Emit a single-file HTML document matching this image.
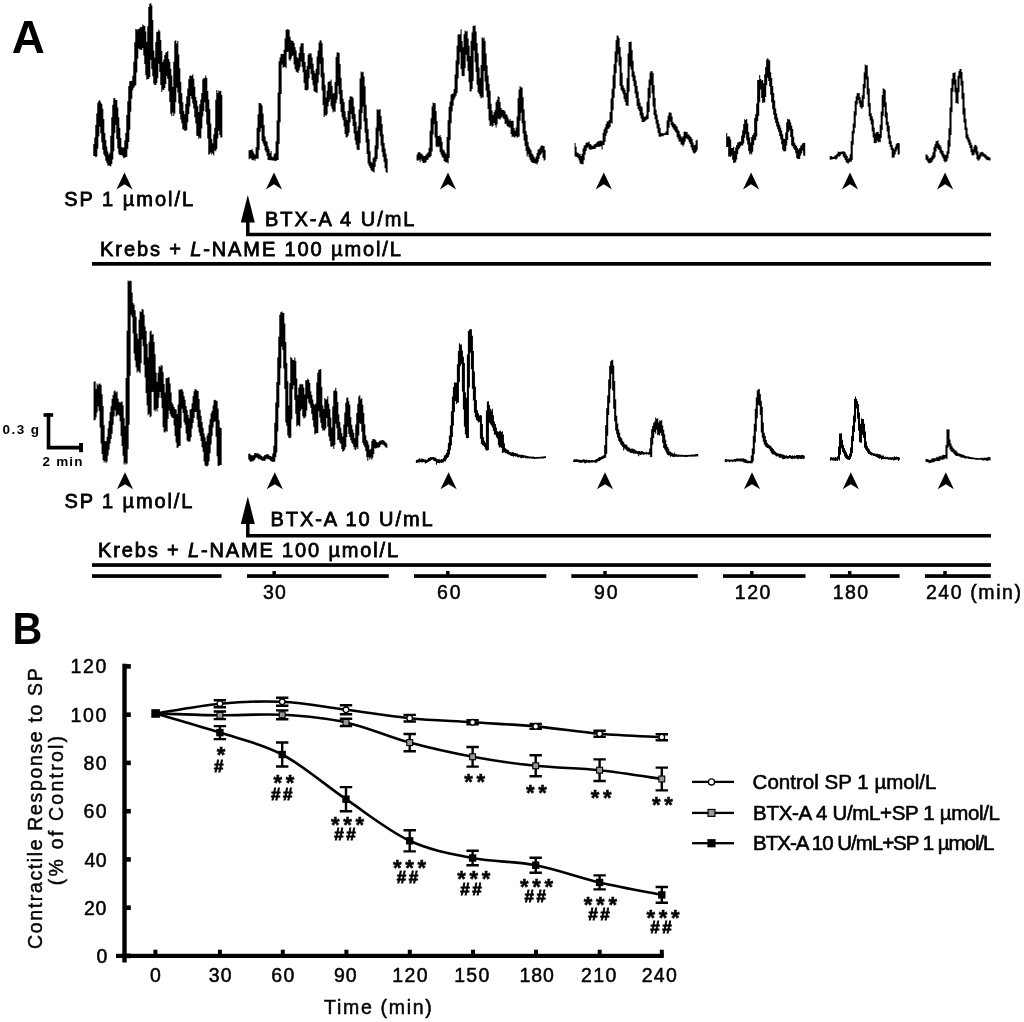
<!DOCTYPE html>
<html><head><meta charset="utf-8"><style>
html,body{margin:0;padding:0;background:#fff;width:1024px;height:1022px;overflow:hidden;}
svg{display:block;will-change:transform;}
</style></head><body>
<svg width="1024" height="1022" viewBox="0 0 1024 1022">
<path d="M93.8,144.0V156.1M94.8,137.4V156.1M95.8,125.1V157.2M96.8,113.6V156.6M97.8,102.8V148.8M98.8,101.1V136.6M99.8,100.0V126.8M100.8,102.3V133.4M101.8,104.0V142.3M102.8,108.7V149.8M103.8,118.9V154.5M104.8,133.0V156.3M105.8,139.9V160.7M106.8,146.5V162.7M107.8,151.5V165.6M108.8,154.5V165.5M109.8,152.7V166.1M110.8,135.8V166.5M111.8,117.3V163.9M112.8,104.8V159.6M113.8,98.2V151.2M114.8,97.9V132.9M115.8,100.1V125.0M116.8,99.9V138.9M117.8,107.4V148.4M118.8,117.2V153.8M119.8,127.8V155.3M120.8,138.0V155.3M121.8,146.9V155.0M122.8,147.8V156.6M123.8,147.2V158.3M124.8,140.5V157.8M125.8,133.0V157.1M126.8,114.9V156.8M127.8,101.3V148.9M128.8,85.9V141.9M129.8,81.3V129.8M130.8,80.9V111.7M131.8,80.8V98.7M132.8,75.7V90.3M133.8,61.8V87.8M134.8,42.3V86.4M135.8,29.1V85.0M136.8,29.6V72.6M137.8,29.5V58.5M138.8,28.7V48.5M139.8,28.3V49.6M140.8,26.7V49.8M141.8,26.9V50.1M142.8,24.6V48.1M143.8,25.4V55.4M144.8,25.9V64.0M145.8,31.4V75.2M146.8,41.7V79.8M147.8,26.2V78.9M148.8,6.9V79.1M149.8,4.0V77.1M150.8,3.0V60.0M151.8,5.6V68.9M152.8,20.1V76.3M153.8,50.5V83.7M154.8,57.4V85.0M155.8,42.1V84.9M156.8,31.8V83.1M157.8,31.7V78.3M158.8,29.4V63.8M159.8,31.3V72.0M160.8,40.1V85.1M161.8,50.9V91.9M162.8,61.9V89.5M163.8,59.6V90.1M164.8,55.1V88.0M165.8,52.7V83.9M166.8,52.1V76.3M167.8,50.9V78.9M168.8,59.0V91.2M169.8,61.7V102.0M170.8,68.7V113.7M171.8,75.5V116.3M172.8,87.1V112.5M173.8,61.8V116.0M174.8,40.9V113.4M175.8,40.3V102.3M176.8,43.4V87.7M177.8,41.0V92.6M178.8,54.4V103.5M179.8,68.2V114.0M180.8,82.0V119.6M181.8,93.2V123.3M182.8,102.2V129.3M183.8,110.9V129.7M184.8,114.2V130.7M185.8,103.8V131.1M186.8,96.3V130.0M187.8,88.5V122.3M188.8,79.3V114.1M189.8,75.8V106.5M190.8,75.4V96.0M191.8,76.0V99.0M192.8,74.2V103.5M193.8,78.7V108.4M194.8,86.8V117.2M195.8,97.1V123.5M196.8,100.5V135.7M197.8,106.0V136.0M198.8,111.9V138.7M199.8,104.2V137.6M200.8,99.4V138.5M201.8,92.9V128.5M202.8,79.2V116.5M203.8,78.3V111.1M204.8,77.7V102.2M205.8,75.5V112.1M206.8,78.1V124.5M207.8,91.1V138.5M208.8,99.4V154.7M209.8,109.0V154.1M210.8,123.4V152.5M211.8,139.1V154.5M212.8,143.3V153.3M213.8,134.3V155.5M214.8,127.7V150.5M215.8,99.7V151.3M216.8,89.9V149.1M217.8,93.0V138.6M218.8,90.5V130.7M219.8,91.2V134.9M220.8,90.8V137.5M221.8,95.0V137.5" fill="none" stroke="#000" stroke-width="1.05"/>
<path d="M249.1,150.2V159.2M250.1,149.9V158.2M251.1,150.0V158.6M252.1,148.9V160.1M253.1,151.3V160.5M254.1,153.3V159.4M255.1,154.7V160.7M256.1,147.2V158.5M257.1,127.8V158.8M258.1,114.3V158.8M259.1,102.9V150.1M260.1,103.1V132.0M261.1,103.7V128.2M262.1,105.5V141.0M263.1,113.5V143.5M264.1,125.1V145.9M265.1,136.6V150.4M266.1,140.7V152.3M267.1,141.8V155.9M268.1,146.3V160.0M269.1,148.9V160.3M270.1,153.1V159.9M271.1,151.1V160.2M272.1,156.4V160.5M273.1,157.2V160.6M274.1,154.6V160.6M275.1,153.1V160.9M276.1,141.3V160.9M277.1,120.6V159.9M278.1,92.6V160.0M279.1,61.2V144.0M280.1,57.5V122.3M281.1,54.1V94.0M282.1,53.9V64.5M283.1,54.0V67.8M284.1,49.8V66.9M285.1,38.5V66.7M286.1,29.9V68.2M287.1,29.3V52.0M288.1,29.2V51.8M289.1,29.9V59.6M290.1,36.8V60.9M291.1,40.3V58.7M292.1,40.7V56.3M293.1,41.1V55.6M294.1,42.9V64.4M295.1,47.2V69.1M296.1,50.5V71.5M297.1,56.9V72.3M298.1,58.2V73.1M299.1,52.9V70.6M300.1,46.8V67.3M301.1,43.6V61.5M302.1,43.2V66.7M303.1,43.2V72.3M304.1,53.0V83.1M305.1,62.0V90.1M306.1,69.7V90.1M307.1,65.9V90.8M308.1,55.1V89.2M309.1,53.2V78.4M310.1,53.4V68.9M311.1,53.4V73.9M312.1,57.5V80.0M313.1,63.7V85.2M314.1,70.7V91.0M315.1,73.3V91.9M316.1,69.0V92.6M317.1,56.4V93.1M318.1,50.6V82.7M319.1,42.5V74.8M320.1,40.2V63.8M321.1,40.5V77.2M322.1,43.2V90.4M323.1,57.4V105.1M324.1,72.8V117.1M325.1,84.7V115.1M326.1,97.6V116.0M327.1,90.8V114.3M328.1,82.0V106.6M329.1,81.3V102.1M330.1,81.4V99.5M331.1,79.4V106.2M332.1,86.1V109.0M333.1,93.5V112.4M334.1,92.9V111.3M335.1,81.9V111.8M336.1,56.9V103.2M337.1,52.6V99.6M338.1,52.2V86.1M339.1,52.9V94.3M340.1,64.0V104.1M341.1,77.8V112.0M342.1,90.1V117.2M343.1,98.8V120.2M344.1,102.1V126.5M345.1,111.2V134.1M346.1,117.2V137.3M347.1,120.1V137.5M348.1,111.0V135.7M349.1,100.0V132.7M350.1,96.2V122.4M351.1,96.4V114.1M352.1,96.4V118.9M353.1,98.0V125.9M354.1,106.6V133.4M355.1,114.0V140.6M356.1,121.8V144.8M357.1,131.1V149.5M358.1,126.3V149.9M359.1,109.5V149.9M360.1,78.5V143.2M361.1,71.6V129.2M362.1,72.6V113.1M363.1,71.8V106.7M364.1,76.6V121.4M365.1,86.3V132.7M366.1,104.7V142.4M367.1,118.2V153.9M368.1,128.9V163.4M369.1,139.1V165.9M370.1,151.2V168.0M371.1,161.7V170.2M372.1,162.7V171.2M373.1,158.3V171.7M374.1,156.7V172.4M375.1,145.4V167.0M376.1,127.4V161.5M377.1,109.3V158.9M378.1,110.1V149.2M379.1,109.5V131.3M380.1,109.3V136.5M381.1,115.9V145.6M382.1,124.0V152.2M383.1,134.2V157.1M384.1,143.1V161.9M385.1,148.4V168.2M386.1,153.7V172.1M387.1,158.8V173.1" fill="none" stroke="#000" stroke-width="1.05"/>
<path d="M417.1,154.5V160.4M418.1,152.6V160.8M419.1,152.1V159.8M420.1,152.6V162.2M421.1,153.7V159.6M422.1,153.7V161.2M423.1,155.5V163.1M424.1,156.0V163.1M425.1,156.0V162.7M426.1,154.5V162.3M427.1,153.5V159.9M428.1,152.2V159.5M429.1,147.7V157.6M430.1,130.7V157.2M431.1,118.2V156.1M432.1,106.4V151.4M433.1,102.4V134.4M434.1,103.2V124.3M435.1,103.0V137.6M436.1,111.1V146.7M437.1,120.9V146.6M438.1,135.9V147.2M439.1,135.9V146.5M440.1,135.0V152.2M441.1,137.2V154.6M442.1,141.8V156.7M443.1,149.5V158.0M444.1,150.2V160.9M445.1,152.3V162.1M446.1,154.0V162.5M447.1,136.9V162.3M448.1,120.2V163.6M449.1,106.8V158.1M450.1,101.6V140.0M451.1,94.4V123.3M452.1,93.7V111.4M453.1,93.6V105.8M454.1,88.9V99.8M455.1,74.6V97.6M456.1,60.6V95.8M457.1,45.7V93.1M458.1,34.5V78.5M459.1,34.3V64.6M460.1,34.3V52.3M461.1,29.3V69.0M462.1,40.9V75.7M463.1,47.3V76.2M464.1,34.3V76.1M465.1,30.6V68.3M466.1,31.7V54.8M467.1,30.7V61.3M468.1,38.5V71.1M469.1,45.8V82.2M470.1,56.0V91.2M471.1,40.8V91.4M472.1,32.4V89.0M473.1,25.9V81.0M474.1,25.8V50.6M475.1,25.6V62.2M476.1,31.5V72.1M477.1,43.1V84.8M478.1,53.3V92.2M479.1,67.5V94.1M480.1,78.1V96.6M481.1,64.9V98.5M482.1,37.3V97.2M483.1,38.5V97.7M484.1,37.6V70.9M485.1,41.1V81.4M486.1,53.5V90.4M487.1,65.4V97.2M488.1,75.6V109.1M489.1,83.7V120.4M490.1,90.8V125.9M491.1,103.8V125.2M492.1,110.5V126.8M493.1,115.0V126.0M494.1,112.3V123.1M495.1,110.0V124.9M496.1,102.0V127.6M497.1,100.1V124.4M498.1,96.3V118.6M499.1,97.1V119.2M500.1,101.9V119.4M501.1,108.0V118.1M502.1,109.8V116.5M503.1,110.0V118.2M504.1,110.3V119.2M505.1,111.4V123.9M506.1,114.2V123.7M507.1,114.7V126.1M508.1,117.5V126.8M509.1,120.6V127.4M510.1,119.0V127.5M511.1,121.0V134.0M512.1,120.5V137.1M513.1,120.9V136.2M514.1,128.1V137.6M515.1,130.8V137.2M516.1,127.5V136.0M517.1,116.6V137.7M518.1,98.3V137.1M519.1,89.4V136.4M520.1,86.1V120.7M521.1,87.6V112.9M522.1,87.5V123.3M523.1,97.2V133.4M524.1,109.6V140.4M525.1,120.7V146.0M526.1,130.9V151.0M527.1,134.8V156.4M528.1,141.9V154.3M529.1,146.6V157.2M530.1,148.5V159.8M531.1,150.2V161.7M532.1,153.5V162.4M533.1,154.8V162.9M534.1,156.7V162.9M535.1,158.4V163.7M536.1,156.5V163.6M537.1,153.1V164.6M538.1,149.4V162.3M539.1,149.3V158.9M540.1,147.6V155.4M541.1,145.8V154.2M542.1,145.3V152.8M543.1,145.9V158.0M544.1,145.9V160.8M545.1,149.9V159.7" fill="none" stroke="#000" stroke-width="1.05"/>
<path d="M575.1,142.9V156.6M576.1,146.8V156.7M577.1,152.4V157.3M578.1,152.8V158.3M579.1,154.3V160.5M580.1,153.7V163.4M581.1,155.9V163.9M582.1,153.8V164.3M583.1,148.4V164.2M584.1,145.7V160.2M585.1,145.1V154.8M586.1,142.8V151.0M587.1,142.6V148.3M588.1,142.3V147.1M589.1,141.6V149.0M590.1,143.9V149.9M591.1,144.5V149.5M592.1,145.7V149.6M593.1,145.7V149.0M594.1,144.4V148.9M595.1,144.1V149.0M596.1,143.2V147.6M597.1,141.9V147.1M598.1,141.2V146.6M599.1,140.9V146.9M600.1,140.8V146.6M601.1,140.6V146.2M602.1,141.0V149.5M603.1,132.8V145.1M604.1,129.3V144.9M605.1,127.2V141.8M606.1,123.9V135.7M607.1,121.6V132.9M608.1,121.2V129.1M609.1,120.0V128.5M610.1,112.0V126.9M611.1,98.5V123.1M612.1,88.8V123.5M613.1,75.3V110.3M614.1,64.3V98.1M615.1,51.5V88.5M616.1,40.3V73.2M617.1,35.6V62.2M618.1,35.7V54.3M619.1,38.0V65.8M620.1,47.0V86.1M621.1,56.7V89.9M622.1,72.8V91.5M623.1,85.3V94.2M624.1,87.7V99.0M625.1,89.8V101.8M626.1,93.1V105.5M627.1,78.0V105.5M628.1,53.6V106.0M629.1,42.1V91.8M630.1,42.1V66.6M631.1,41.5V69.5M632.1,50.1V77.1M633.1,60.7V80.9M634.1,71.4V86.3M635.1,75.5V93.6M636.1,80.6V98.1M637.1,86.0V105.8M638.1,91.6V109.0M639.1,98.5V110.9M640.1,102.7V115.6M641.1,105.9V118.6M642.1,107.3V122.1M643.1,112.7V122.3M644.1,116.5V122.0M645.1,117.0V121.2M646.1,115.2V120.3M647.1,101.8V119.6M648.1,87.7V118.9M649.1,79.5V111.9M650.1,72.5V98.0M651.1,71.0V85.2M652.1,71.3V93.6M653.1,73.1V106.5M654.1,85.1V115.1M655.1,97.7V119.2M656.1,109.7V123.8M657.1,114.6V128.4M658.1,119.7V132.9M659.1,123.7V136.5M660.1,127.7V137.0M661.1,132.7V136.2M662.1,133.2V136.3M663.1,133.2V136.3M664.1,133.2V135.2M665.1,132.8V134.8M666.1,131.2V135.1M667.1,120.5V135.0M668.1,115.8V135.1M669.1,112.5V127.7M670.1,112.5V121.4M671.1,112.8V125.0M672.1,116.4V127.0M673.1,122.0V128.4M674.1,123.6V130.1M675.1,123.9V131.4M676.1,125.5V132.8M677.1,126.6V136.9M678.1,129.6V139.0M679.1,131.1V141.4M680.1,134.1V141.8M681.1,136.3V144.4M682.1,137.5V145.1M683.1,136.2V146.4M684.1,131.8V144.6M685.1,131.6V141.8M686.1,131.9V138.4M687.1,132.0V138.7M688.1,134.4V139.8M689.1,134.6V142.0M690.1,136.2V143.9M691.1,137.1V147.3M692.1,138.9V149.9M693.1,142.6V152.5M694.1,145.2V153.6M695.1,144.7V153.2M696.1,140.5V152.1M697.1,139.8V150.2" fill="none" stroke="#000" stroke-width="1.05"/>
<path d="M726.7,132.9V147.0M727.7,136.6V146.9M728.7,136.2V156.4M729.7,136.7V156.4M730.7,139.6V157.1M731.7,148.0V155.4M732.7,148.1V159.7M733.7,146.8V163.1M734.7,151.0V162.7M735.7,147.4V162.2M736.7,145.0V159.5M737.7,142.6V153.9M738.7,142.3V149.5M739.7,141.6V148.2M740.7,141.5V146.2M741.7,135.5V145.3M742.7,130.3V145.6M743.7,124.1V143.5M744.7,119.3V137.8M745.7,120.1V134.2M746.7,118.9V140.2M747.7,123.5V144.5M748.7,132.0V151.1M749.7,137.5V154.6M750.7,142.4V153.2M751.7,137.0V154.5M752.7,134.9V151.7M753.7,133.3V144.9M754.7,117.9V140.2M755.7,114.3V139.9M756.7,103.4V136.6M757.7,80.0V121.1M758.7,80.1V116.1M759.7,75.0V102.2M760.7,79.0V89.6M761.7,80.4V98.0M762.7,80.0V103.0M763.7,83.3V102.6M764.7,74.3V102.3M765.7,67.1V96.9M766.7,59.5V85.3M767.7,58.2V77.7M768.7,59.5V80.9M769.7,60.6V86.5M770.7,72.3V94.8M771.7,77.9V102.5M772.7,85.9V109.2M773.7,92.9V114.7M774.7,100.6V119.6M775.7,108.5V123.1M776.7,113.4V126.5M777.7,117.7V129.2M778.7,121.8V131.9M779.7,124.8V135.9M780.7,127.5V139.4M781.7,130.6V144.3M782.7,134.2V149.7M783.7,138.5V151.3M784.7,139.0V151.5M785.7,132.4V151.0M786.7,122.3V145.5M787.7,118.8V140.1M788.7,119.4V132.1M789.7,119.4V130.2M790.7,122.6V137.0M791.7,125.8V145.4M792.7,128.9V146.4M793.7,136.8V148.6M794.7,142.8V149.9M795.7,144.7V153.3M796.7,146.1V158.1M797.7,147.9V158.9M798.7,149.6V159.0M799.7,147.9V159.1M800.7,145.8V155.6M801.7,144.8V153.2M802.7,143.3V150.6M803.7,142.9V155.6M804.7,142.8V156.0" fill="none" stroke="#000" stroke-width="1.05"/>
<path d="M830.2,156.2V159.7M831.2,156.1V159.4M832.2,156.7V159.4M833.2,157.0V159.0M834.2,156.2V158.9M835.2,155.5V159.3M836.2,154.7V159.5M837.2,153.5V158.5M838.2,151.6V156.6M839.2,152.0V156.7M840.2,151.7V155.7M841.2,151.7V154.5M842.2,151.4V154.1M843.2,151.3V156.5M844.2,151.5V157.9M845.2,152.3V159.9M846.2,154.4V162.3M847.2,156.1V163.1M848.2,158.8V163.7M849.2,157.7V162.5M850.2,154.2V161.5M851.2,141.0V161.9M852.2,131.1V160.0M853.2,123.4V144.7M854.2,111.3V133.6M855.2,101.0V127.8M856.2,96.3V115.5M857.2,92.9V104.5M858.2,93.3V100.1M859.2,93.0V103.6M860.2,97.3V107.0M861.2,100.6V108.8M862.2,95.2V108.2M863.2,84.1V106.9M864.2,72.5V99.0M865.2,64.5V88.3M866.2,65.3V79.6M867.2,65.2V94.5M868.2,76.4V106.7M869.2,88.6V116.2M870.2,103.0V120.4M871.2,113.3V124.6M872.2,116.2V131.5M873.2,119.2V137.4M874.2,127.6V143.0M875.2,133.5V143.2M876.2,132.2V143.1M877.2,132.1V140.7M878.2,131.7V142.6M879.2,133.9V141.7M880.2,124.7V142.3M881.2,111.6V138.1M882.2,94.9V129.9M883.2,88.2V116.0M884.2,89.1V106.9M885.2,90.1V117.5M886.2,102.2V125.0M887.2,112.6V131.5M888.2,121.8V138.6M889.2,125.7V144.1M890.2,135.3V147.2M891.2,141.1V150.1M892.2,144.9V157.7M893.2,147.9V157.4M894.2,149.3V157.6M895.2,146.8V154.6M896.2,144.3V151.4M897.2,143.1V149.5M898.2,142.9V154.8M899.2,143.3V154.3" fill="none" stroke="#000" stroke-width="1.05"/>
<path d="M926.0,154.5V159.8M927.0,154.5V160.7M928.0,156.0V162.5M929.0,158.5V163.6M930.0,158.1V162.9M931.0,157.2V162.9M932.0,155.5V162.0M933.0,152.3V160.3M934.0,147.0V158.8M935.0,144.3V157.6M936.0,141.3V151.4M937.0,140.9V147.9M938.0,140.3V149.2M939.0,143.4V149.9M940.0,145.0V152.7M941.0,146.4V154.2M942.0,149.7V156.5M943.0,150.9V158.4M944.0,153.4V161.0M945.0,155.1V162.6M946.0,154.7V161.8M947.0,151.2V161.3M948.0,140.2V158.2M949.0,128.3V153.8M950.0,107.4V146.8M951.0,88.1V134.9M952.0,78.8V112.2M953.0,73.0V91.7M954.0,72.7V84.7M955.0,72.3V92.5M956.0,79.6V103.3M957.0,87.7V103.1M958.0,75.7V104.0M959.0,71.1V92.2M960.0,69.1V78.6M961.0,68.9V85.5M962.0,71.9V98.9M963.0,80.7V114.4M964.0,93.1V122.5M965.0,107.9V130.1M966.0,118.8V137.9M967.0,127.5V139.7M968.0,134.5V142.3M969.0,137.6V145.0M970.0,139.8V148.0M971.0,142.6V152.3M972.0,145.1V154.9M973.0,149.2V155.8M974.0,146.6V154.8M975.0,144.7V152.5M976.0,145.1V154.7M977.0,146.5V159.2M978.0,151.2V160.4M979.0,154.8V160.5M980.0,152.5V159.1M981.0,152.2V157.0M982.0,151.7V155.6M983.0,152.3V156.6M984.0,153.4V157.0M985.0,154.2V158.3M986.0,154.6V159.3M987.0,155.9V160.2M988.0,156.4V160.0M989.0,157.1V160.5M990.0,157.8V160.5" fill="none" stroke="#000" stroke-width="1.05"/>
<path d="M94.1,381.7V420.6M95.1,381.2V420.0M96.1,389.1V417.5M97.1,383.6V412.6M98.1,385.3V406.4M99.1,383.7V411.1M100.1,383.4V427.5M101.1,385.1V443.5M102.1,394.3V454.1M103.1,406.1V459.9M104.1,425.1V462.5M105.1,441.0V461.1M106.1,441.3V462.9M107.1,436.7V461.5M108.1,428.3V455.6M109.1,421.1V449.8M110.1,412.3V443.8M111.1,406.3V439.1M112.1,399.0V433.8M113.1,395.1V424.7M114.1,391.3V416.5M115.1,390.5V410.2M116.1,392.5V416.6M117.1,391.6V415.4M118.1,398.6V414.5M119.1,401.7V415.5M120.1,402.8V421.2M121.1,401.7V436.0M122.1,401.5V445.9M123.1,405.2V455.8M124.1,418.1V464.5M125.1,426.1V462.8M126.1,377.9V464.5M127.1,330.7V463.4M128.1,280.6V449.2M129.1,281.6V424.8M130.1,280.6V375.7M131.1,281.0V314.7M132.1,292.4V317.0M133.1,303.0V333.4M134.1,304.8V353.5M135.1,310.3V360.4M136.1,316.7V367.2M137.1,333.4V372.6M138.1,338.7V370.5M139.1,319.8V372.0M140.1,311.3V373.2M141.1,312.1V363.3M142.1,309.0V339.5M143.1,309.6V346.2M144.1,314.8V365.1M145.1,326.5V377.4M146.1,330.9V392.9M147.1,343.8V405.2M148.1,357.5V415.2M149.1,341.8V413.8M150.1,331.6V417.3M151.1,330.6V416.2M152.1,334.8V391.7M153.1,334.1V391.9M154.1,342.1V410.0M155.1,354.2V411.5M156.1,372.4V409.2M157.1,381.7V411.5M158.1,373.0V408.1M159.1,366.0V397.7M160.1,367.3V392.0M161.1,365.1V398.0M162.1,365.5V408.2M163.1,372.2V427.0M164.1,383.9V432.2M165.1,392.5V432.4M166.1,378.0V430.9M167.1,378.3V431.8M168.1,377.3V419.0M169.1,377.3V410.5M170.1,383.4V414.1M171.1,392.6V416.3M172.1,402.6V417.8M173.1,404.4V418.0M174.1,406.9V425.6M175.1,408.9V436.1M176.1,409.6V442.6M177.1,414.0V448.0M178.1,404.5V447.5M179.1,389.5V445.9M180.1,390.0V445.7M181.1,389.0V428.1M182.1,389.3V408.8M183.1,391.5V412.9M184.1,396.3V422.2M185.1,399.7V424.8M186.1,406.0V433.6M187.1,410.0V440.6M188.1,414.7V441.8M189.1,418.3V441.6M190.1,409.4V441.6M191.1,408.9V437.3M192.1,403.2V428.6M193.1,396.0V422.9M194.1,391.2V417.9M195.1,389.1V411.9M196.1,389.5V412.1M197.1,390.5V419.5M198.1,390.9V427.2M199.1,399.1V432.6M200.1,409.8V436.0M201.1,415.7V441.1M202.1,422.1V447.2M203.1,427.8V451.8M204.1,433.5V461.6M205.1,437.2V465.5M206.1,441.4V465.9M207.1,435.6V466.4M208.1,433.1V465.2M209.1,424.8V461.6M210.1,419.3V453.3M211.1,413.3V444.5M212.1,410.9V435.8M213.1,405.4V427.5M214.1,400.2V422.1M215.1,399.7V421.3M216.1,400.5V436.8M217.1,401.0V456.3M218.1,408.4V466.1M219.1,420.3V465.8M220.1,427.6V465.0M221.1,427.9V465.1" fill="none" stroke="#000" stroke-width="1.05"/>
<path d="M248.8,453.7V459.5M249.8,453.4V461.1M250.8,455.0V461.9M251.8,455.3V461.2M252.8,455.6V461.6M253.8,455.0V460.5M254.8,453.1V459.7M255.8,453.1V457.9M256.8,453.4V457.4M257.8,452.9V458.2M258.8,454.2V459.3M259.8,454.2V459.3M260.8,455.3V459.8M261.8,455.9V460.4M262.8,457.0V461.0M263.8,456.1V460.5M264.8,454.9V460.9M265.8,454.7V459.5M266.8,454.3V458.4M267.8,454.0V459.2M268.8,454.8V459.1M269.8,456.0V460.1M270.8,455.9V460.9M271.8,456.7V461.8M272.8,453.6V461.8M273.8,445.8V462.1M274.8,422.8V461.6M275.8,402.5V457.1M276.8,382.1V452.5M277.8,357.3V431.6M278.8,336.8V407.5M279.8,314.8V385.1M280.8,312.2V368.3M281.8,311.4V346.6M282.8,312.8V350.1M283.8,313.0V368.6M284.8,323.4V388.9M285.8,342.0V422.5M286.8,363.0V425.8M287.8,381.3V435.4M288.8,405.5V437.8M289.8,383.0V438.3M290.8,357.0V437.6M291.8,357.9V419.2M292.8,360.0V389.3M293.8,360.3V385.3M294.8,357.6V399.8M295.8,361.0V413.7M296.8,378.4V426.4M297.8,394.9V425.1M298.8,387.7V425.6M299.8,384.5V426.4M300.8,383.8V410.8M301.8,384.5V408.9M302.8,384.3V416.2M303.8,387.5V418.5M304.8,394.4V418.0M305.8,380.3V416.6M306.8,380.2V410.4M307.8,378.6V398.8M308.8,380.0V402.7M309.8,383.1V404.4M310.8,391.3V407.8M311.8,394.9V413.9M312.8,399.5V420.2M313.8,403.8V426.9M314.8,404.7V434.4M315.8,403.5V433.2M316.8,382.5V433.3M317.8,372.7V432.9M318.8,369.7V411.3M319.8,369.6V417.4M320.8,368.9V422.7M321.8,387.1V428.1M322.8,405.6V430.5M323.8,409.0V430.3M324.8,398.0V430.5M325.8,399.5V428.4M326.8,399.2V418.1M327.8,396.2V426.7M328.8,403.7V436.4M329.8,408.9V441.0M330.8,417.4V446.6M331.8,427.4V446.8M332.8,406.6V446.1M333.8,391.0V449.1M334.8,390.3V445.1M335.8,387.7V423.8M336.8,391.2V428.2M337.8,401.9V439.9M338.8,414.4V439.7M339.8,422.1V442.5M340.8,427.7V444.0M341.8,433.1V448.9M342.8,436.4V451.7M343.8,424.5V451.0M344.8,412.6V449.4M345.8,402.8V447.0M346.8,397.8V437.0M347.8,397.4V426.8M348.8,401.3V433.9M349.8,404.7V437.1M350.8,417.1V440.3M351.8,424.8V442.8M352.8,429.5V444.2M353.8,432.7V447.0M354.8,438.1V449.5M355.8,424.6V450.0M356.8,412.9V447.3M357.8,403.7V448.9M358.8,396.4V435.6M359.8,395.2V423.2M360.8,399.2V424.0M361.8,398.2V431.7M362.8,404.7V443.1M363.8,412.9V445.2M364.8,424.2V447.2M365.8,435.4V451.0M366.8,440.1V457.0M367.8,441.4V460.8M368.8,444.7V457.2M369.8,449.8V459.5M370.8,448.7V457.5M371.8,441.1V459.7M372.8,438.9V457.7M373.8,439.3V454.1M374.8,439.3V447.9M375.8,440.3V448.7M376.8,442.1V448.0M377.8,442.4V447.4M378.8,441.7V447.8M379.8,440.8V446.9M380.8,440.4V445.1M381.8,440.3V444.2M382.8,440.1V444.5M383.8,440.6V445.3M384.8,441.6V446.3M385.8,442.5V447.4M386.8,443.4V447.8" fill="none" stroke="#000" stroke-width="1.05"/>
<path d="M416.4,460.0V463.0M417.4,459.7V462.8M418.4,459.3V462.4M419.4,458.2V462.6M420.4,459.3V461.9M421.4,458.6V462.2M422.4,458.8V462.6M423.4,459.1V462.1M424.4,459.4V462.3M425.4,459.5V463.4M426.4,459.9V463.0M427.4,459.2V462.4M428.4,458.0V462.0M429.4,457.8V461.2M430.4,456.9V460.9M431.4,457.3V460.0M432.4,456.9V459.5M433.4,456.9V460.4M434.4,457.5V460.9M435.4,457.4V461.5M436.4,458.4V464.7M437.4,459.2V462.8M438.4,459.2V463.0M439.4,459.3V463.3M440.4,459.7V462.6M441.4,459.0V463.0M442.4,459.2V462.6M443.4,457.9V462.4M444.4,455.6V461.3M445.4,454.8V461.4M446.4,452.9V459.5M447.4,449.6V457.9M448.4,442.9V456.9M449.4,435.6V454.7M450.4,425.4V450.2M451.4,411.2V445.5M452.4,396.4V436.9M453.4,387.1V425.8M454.4,382.4V412.1M455.4,382.6V401.1M456.4,382.4V404.1M457.4,364.3V402.7M458.4,351.1V402.7M459.4,343.2V382.0M460.4,344.5V366.3M461.4,344.5V364.1M462.4,350.4V391.4M463.4,356.8V409.6M464.4,363.0V426.7M465.4,392.2V434.6M466.4,397.7V437.9M467.4,354.4V438.3M468.4,331.1V437.9M469.4,329.6V387.6M470.4,329.3V352.7M471.4,329.3V369.2M472.4,335.8V388.7M473.4,351.1V400.5M474.4,371.6V412.8M475.4,386.6V417.3M476.4,400.1V419.9M477.4,410.3V420.9M478.4,413.3V422.5M479.4,415.5V422.0M480.4,415.0V438.8M481.4,415.6V443.9M482.4,424.0V445.2M483.4,437.1V445.7M484.4,440.8V447.1M485.4,442.7V449.6M486.4,410.5V450.5M487.4,401.6V450.4M488.4,401.2V450.1M489.4,404.9V422.8M490.4,408.8V424.2M491.4,410.6V425.5M492.4,408.8V427.5M493.4,415.3V431.1M494.4,421.5V434.8M495.4,423.9V434.7M496.4,427.4V437.3M497.4,431.2V438.8M498.4,431.8V445.2M499.4,431.3V447.8M500.4,430.5V447.1M501.4,431.9V448.0M502.4,431.2V453.1M503.4,434.4V452.5M504.4,443.3V452.2M505.4,447.9V453.2M506.4,449.3V453.2M507.4,449.5V454.1M508.4,450.3V454.6M509.4,451.5V454.8M510.4,452.1V455.6M511.4,452.5V456.0M512.4,452.2V456.0M513.4,452.1V456.8M514.4,453.0V456.1M515.4,453.0V456.4M516.4,453.6V456.5M517.4,453.6V457.3M518.4,454.6V457.5M519.4,454.6V457.0M520.4,454.7V457.8M521.4,455.0V458.2M522.4,454.8V458.1M523.4,455.0V458.0M524.4,455.4V457.6M525.4,455.5V458.3M526.4,455.8V458.3M527.4,456.0V458.4M528.4,456.3V458.3M529.4,456.4V458.4M530.4,456.5V458.5M531.4,456.7V458.5M532.4,456.6V458.7M533.4,456.6V458.7M534.4,456.9V458.9M535.4,456.9V458.7M536.4,457.1V458.8M537.4,457.1V458.7M538.4,456.8V458.8M539.4,456.9V458.6M540.4,456.7V458.6M541.4,456.7V458.4M542.4,456.4V458.4M543.4,456.4V458.4M544.4,456.2V458.2M545.4,456.2V458.0" fill="none" stroke="#000" stroke-width="1.05"/>
<path d="M573.7,459.8V462.0M574.7,459.2V462.3M575.7,459.3V462.1M576.7,459.0V462.1M577.7,459.7V461.9M578.7,459.4V462.5M579.7,459.8V462.5M580.7,460.1V463.1M581.7,460.0V462.8M582.7,459.4V462.5M583.7,459.2V462.3M584.7,459.6V463.2M585.7,460.0V463.3M586.7,459.6V462.8M587.7,460.3V462.3M588.7,460.1V462.8M589.7,460.1V463.1M590.7,460.2V462.5M591.7,459.9V462.5M592.7,460.1V462.4M593.7,460.3V462.3M594.7,460.0V462.4M595.7,459.4V462.9M596.7,459.1V462.5M597.7,458.4V461.6M598.7,457.6V461.2M599.7,457.1V460.9M600.7,456.9V460.0M601.7,456.2V459.6M602.7,455.7V459.0M603.7,455.2V458.4M604.7,444.9V457.9M605.7,425.1V457.6M606.7,408.2V453.8M607.7,395.4V435.7M608.7,379.4V415.1M609.7,365.8V402.9M610.7,361.2V388.7M611.7,360.2V374.1M612.7,359.7V390.6M613.7,365.5V408.7M614.7,381.0V421.5M615.7,399.3V430.4M616.7,415.8V434.3M617.7,423.5V437.7M618.7,429.5V440.7M619.7,432.8V442.3M620.7,437.0V444.6M621.7,438.2V445.4M622.7,440.7V447.0M623.7,442.0V450.4M624.7,443.9V448.5M625.7,444.4V449.5M626.7,444.7V450.4M627.7,446.5V451.5M628.7,447.4V451.4M629.7,447.7V452.2M630.7,448.9V452.9M631.7,448.6V453.0M632.7,448.6V453.0M633.7,449.2V454.1M634.7,449.2V453.6M635.7,450.2V453.7M636.7,450.8V453.8M637.7,451.3V454.3M638.7,451.0V456.3M639.7,451.0V454.6M640.7,451.5V454.9M641.7,451.1V454.5M642.7,451.2V454.3M643.7,452.0V455.1M644.7,452.2V454.3M645.7,452.2V454.3M646.7,451.8V454.6M647.7,452.4V454.2M648.7,451.9V454.7M649.7,448.5V454.8M650.7,437.6V457.2M651.7,429.0V456.9M652.7,426.1V444.7M653.7,422.8V438.0M654.7,421.5V432.0M655.7,417.4V433.7M656.7,418.9V429.7M657.7,418.3V435.2M658.7,422.5V434.7M659.7,420.3V435.4M660.7,421.1V433.0M661.7,419.9V435.7M662.7,425.5V443.1M663.7,429.8V447.9M664.7,434.2V449.4M665.7,439.7V451.6M666.7,444.2V453.6M667.7,447.0V455.0M668.7,448.5V455.4M669.7,451.6V455.6M670.7,451.8V456.9M671.7,452.8V455.9M672.7,453.2V456.9M673.7,453.7V456.7M674.7,452.6V456.9M675.7,454.3V456.8M676.7,454.2V456.5M677.7,454.6V456.9M678.7,454.5V456.8M679.7,454.8V456.8M680.7,454.8V456.8M681.7,454.8V456.8M682.7,454.8V456.7M683.7,455.0V456.7M684.7,454.9V456.9M685.7,455.1V457.1M686.7,454.8V456.8M687.7,455.0V457.0M688.7,454.8V456.6M689.7,454.9V456.8M690.7,454.6V456.5M691.7,454.7V456.7M692.7,454.4V456.5M693.7,454.4V456.7M694.7,454.4V456.5M695.7,454.1V456.6M696.7,454.1V456.3M697.7,454.1V456.5" fill="none" stroke="#000" stroke-width="1.05"/>
<path d="M725.3,459.0V461.9M726.3,459.0V462.3M727.3,459.6V461.6M728.3,459.4V461.6M729.3,459.5V462.3M730.3,459.5V461.7M731.3,459.4V461.4M732.3,459.7V462.3M733.3,459.6V461.5M734.3,459.1V461.6M735.3,459.1V462.1M736.3,458.6V461.2M737.3,458.6V461.5M738.3,458.6V461.2M739.3,458.4V461.3M740.3,458.4V461.5M741.3,458.5V461.4M742.3,458.5V461.5M743.3,458.3V462.2M744.3,458.8V462.5M745.3,459.1V463.1M746.3,459.4V462.9M747.3,460.4V463.6M748.3,460.5V463.3M749.3,461.1V462.9M750.3,460.8V463.6M751.3,455.4V463.3M752.3,448.5V463.2M753.3,435.8V461.2M754.3,423.7V453.9M755.3,408.7V442.8M756.3,397.6V431.6M757.3,390.5V418.2M758.3,389.2V405.0M759.3,389.0V405.8M760.3,394.0V415.1M761.3,400.8V432.6M762.3,406.7V437.8M763.3,422.5V441.7M764.3,432.8V444.4M765.3,435.9V446.3M766.3,439.9V447.2M767.3,442.7V448.1M768.3,444.2V448.3M769.3,444.9V449.3M770.3,445.7V451.0M771.3,446.5V453.0M772.3,447.9V454.2M773.3,449.0V454.5M774.3,450.4V454.8M775.3,451.5V455.4M776.3,452.4V456.6M777.3,453.2V456.2M778.3,453.2V456.5M779.3,454.1V457.6M780.3,453.5V457.9M781.3,453.9V457.5M782.3,454.4V458.7M783.3,454.4V459.2M784.3,454.9V459.1M785.3,455.8V458.7M786.3,455.0V458.3M787.3,456.0V459.0M788.3,456.0V458.4M789.3,455.1V458.2M790.3,455.0V458.2M791.3,456.0V458.9M792.3,455.3V459.2M793.3,456.1V458.5M794.3,455.2V459.1M795.3,456.0V458.5M796.3,455.2V458.3M797.3,455.0V458.9M798.3,454.9V459.3M799.3,455.0V458.4M800.3,455.5V459.1M801.3,454.8V458.7M802.3,455.0V458.5M803.3,455.2V459.3M804.3,455.5V458.4" fill="none" stroke="#000" stroke-width="1.05"/>
<path d="M830.5,457.2V460.7M831.5,457.2V460.1M832.5,457.4V460.4M833.5,457.5V460.5M834.5,457.5V460.7M835.5,457.1V461.1M836.5,457.4V460.6M837.5,456.2V461.0M838.5,446.5V459.5M839.5,433.4V460.4M840.5,433.4V454.8M841.5,433.3V448.6M842.5,439.7V451.9M843.5,444.9V453.4M844.5,447.9V456.6M845.5,450.3V458.0M846.5,452.3V459.0M847.5,454.4V459.5M848.5,456.0V459.7M849.5,453.7V460.0M850.5,447.6V459.1M851.5,436.1V456.4M852.5,425.8V452.9M853.5,415.5V441.3M854.5,398.9V431.9M855.5,396.6V422.3M856.5,398.8V408.6M857.5,401.0V418.8M858.5,403.9V430.7M859.5,412.4V442.0M860.5,423.8V442.7M861.5,418.3V442.7M862.5,419.0V435.0M863.5,419.0V437.8M864.5,423.8V447.8M865.5,431.6V449.4M866.5,441.4V450.8M867.5,446.1V452.4M868.5,448.2V454.1M869.5,449.6V454.2M870.5,451.5V454.9M871.5,452.3V455.4M872.5,452.7V455.3M873.5,453.2V456.1M874.5,453.3V456.1M875.5,453.8V456.5M876.5,453.8V457.1M877.5,453.8V457.5M878.5,454.3V458.1M879.5,454.2V458.7M880.5,454.6V458.3M881.5,455.4V459.8M882.5,455.6V459.1M883.5,455.5V459.2M884.5,457.1V459.1M885.5,456.5V459.0M886.5,457.3V459.2M887.5,456.7V459.3M888.5,457.3V459.8M889.5,457.2V459.8M890.5,457.1V459.7M891.5,457.6V460.0M892.5,456.9V459.8M893.5,457.3V460.4M894.5,456.2V460.2M895.5,456.9V460.1M896.5,456.6V459.7M897.5,457.1V459.7M898.5,457.1V460.9M899.5,457.6V459.8" fill="none" stroke="#000" stroke-width="1.05"/>
<path d="M926.0,459.0V461.8M927.0,459.2V462.3M928.0,459.1V462.0M929.0,460.1V463.2M930.0,460.0V463.0M931.0,459.6V462.7M932.0,458.3V462.3M933.0,458.5V462.4M934.0,458.1V461.9M935.0,458.5V461.4M936.0,457.7V460.7M937.0,456.7V461.3M938.0,457.2V461.1M939.0,456.5V460.9M940.0,455.8V460.7M941.0,456.5V459.3M942.0,455.5V460.0M943.0,454.8V459.5M944.0,455.1V459.4M945.0,454.9V458.6M946.0,445.0V458.2M947.0,429.2V459.2M948.0,429.7V447.8M949.0,429.3V446.3M950.0,439.5V449.6M951.0,443.6V451.5M952.0,445.9V451.7M953.0,447.7V452.5M954.0,448.7V453.8M955.0,450.5V455.1M956.0,450.3V456.1M957.0,451.8V455.9M958.0,453.1V456.1M959.0,453.6V456.6M960.0,453.5V456.8M961.0,454.2V457.4M962.0,454.2V457.7M963.0,454.7V457.5M964.0,454.9V458.0M965.0,455.7V458.4M966.0,455.9V458.5M967.0,456.4V458.3M968.0,456.3V458.5M969.0,456.5V459.0M970.0,456.9V459.1M971.0,457.0V459.0M972.0,457.2V459.3M973.0,457.5V459.3M974.0,457.5V459.3M975.0,457.9V459.6M976.0,457.8V459.7M977.0,458.1V459.7M978.0,458.0V459.9M979.0,458.3V459.6M980.0,457.9V459.8M981.0,457.8V459.8M982.0,458.0V460.2M983.0,457.8V460.5M984.0,457.9V460.6M985.0,457.3V460.1M986.0,458.0V460.5M987.0,457.5V461.0M988.0,457.2V460.7M989.0,456.8V459.9M990.0,457.3V460.4" fill="none" stroke="#000" stroke-width="1.05"/>
<path d="M124.5,172.4 L132.6,189.4 L124.5,184.3 L116.4,189.4 Z" fill="#000"/>
<path d="M274.0,172.4 L282.1,189.4 L274.0,184.3 L265.9,189.4 Z" fill="#000"/>
<path d="M448.0,172.4 L456.1,189.4 L448.0,184.3 L439.9,189.4 Z" fill="#000"/>
<path d="M603.8,172.4 L611.9,189.4 L603.8,184.3 L595.7,189.4 Z" fill="#000"/>
<path d="M751.1,172.4 L759.2,189.4 L751.1,184.3 L743.0,189.4 Z" fill="#000"/>
<path d="M850.0,172.4 L858.1,189.4 L850.0,184.3 L841.9,189.4 Z" fill="#000"/>
<path d="M945.1,172.4 L953.2,189.4 L945.1,184.3 L937.0,189.4 Z" fill="#000"/>
<path d="M125.0,472.3 L133.1,489.3 L125.0,484.2 L116.9,489.3 Z" fill="#000"/>
<path d="M274.8,472.3 L282.9,489.3 L274.8,484.2 L266.7,489.3 Z" fill="#000"/>
<path d="M448.6,472.3 L456.7,489.3 L448.6,484.2 L440.5,489.3 Z" fill="#000"/>
<path d="M605.0,472.3 L613.1,489.3 L605.0,484.2 L596.9,489.3 Z" fill="#000"/>
<path d="M752.0,472.3 L760.1,489.3 L752.0,484.2 L743.9,489.3 Z" fill="#000"/>
<path d="M850.8,472.3 L858.9,489.3 L850.8,484.2 L842.7,489.3 Z" fill="#000"/>
<path d="M945.8,472.3 L953.9,489.3 L945.8,484.2 L937.7,489.3 Z" fill="#000"/>
<path d="M240.8,222.6 L247.8,195.1 L254.8,222.6 Z" fill="#000"/><path d="M247.8,220.1 L247.8,234.5 L991,234.5" fill="none" stroke="#000" stroke-width="3.5"/>
<path d="M240.8,523.9 L247.8,496.4 L254.8,523.9 Z" fill="#000"/><path d="M247.8,521.4 L247.8,535.8 L991,535.8" fill="none" stroke="#000" stroke-width="3.5"/>
<rect x="92" y="262" width="899" height="3.7" fill="#000"/>
<rect x="92" y="563.2" width="899" height="3.7" fill="#000"/>
<rect x="92" y="574.2" width="129.6" height="3.7" fill="#000"/>
<rect x="247" y="574.2" width="141.8" height="3.7" fill="#000"/>
<rect x="272.45" y="571" width="3.5" height="4" fill="#000"/>
<rect x="414" y="574.2" width="132.3" height="3.7" fill="#000"/>
<rect x="446.05" y="571" width="3.5" height="4" fill="#000"/>
<rect x="571.3" y="574.2" width="126.5" height="3.7" fill="#000"/>
<rect x="603.25" y="571" width="3.5" height="4" fill="#000"/>
<rect x="723" y="574.2" width="82.5" height="3.7" fill="#000"/>
<rect x="750.05" y="571" width="3.5" height="4" fill="#000"/>
<rect x="829.9" y="574.2" width="69.7" height="3.7" fill="#000"/>
<rect x="847.95" y="571" width="3.5" height="4" fill="#000"/>
<rect x="924.9" y="574.2" width="65.9" height="3.7" fill="#000"/>
<rect x="943.25" y="571" width="3.5" height="4" fill="#000"/>
<path d="M48.5,413.2 L48.5,447.6 L81,447.6" fill="none" stroke="#000" stroke-width="3.6"/>
<rect x="43.5" y="413.2" width="9.7" height="3.6" fill="#000"/>
<rect x="79.1" y="443" width="3.9" height="9.2" fill="#000"/>
<text x="0" y="0" transform="translate(11.70,52.60) scale(0.975,1)" font-family="'Liberation Sans', sans-serif" font-size="47" font-weight="bold">A</text>
<text x="0" y="0" transform="translate(12.50,643.90) scale(0.915,1)" font-family="'Liberation Sans', sans-serif" font-size="45" font-weight="bold">B</text>
<text x="64.20" y="206.00" font-family="'Liberation Sans', sans-serif" font-size="20" font-weight="normal" textLength="129.00" lengthAdjust="spacing" stroke="#000" stroke-width="0.8">SP 1 µmol/L</text>
<text x="265.00" y="226.10" font-family="'Liberation Sans', sans-serif" font-size="20" font-weight="normal" textLength="149.40" lengthAdjust="spacing" stroke="#000" stroke-width="0.8">BTX-A 4 U/mL</text>
<text x="100.10" y="255.90" font-family="'Liberation Sans', sans-serif" font-size="20" font-weight="normal" textLength="300.80" lengthAdjust="spacing" stroke="#000" stroke-width="0.8">Krebs + <tspan font-style="italic">L</tspan>-NAME 100 µmol/L</text>
<text x="64.50" y="508.20" font-family="'Liberation Sans', sans-serif" font-size="20" font-weight="normal" textLength="127.90" lengthAdjust="spacing" stroke="#000" stroke-width="0.8">SP 1 µmol/L</text>
<text x="270.60" y="526.10" font-family="'Liberation Sans', sans-serif" font-size="20" font-weight="normal" textLength="162.10" lengthAdjust="spacing" stroke="#000" stroke-width="0.8">BTX-A 10 U/mL</text>
<text x="98.10" y="557.00" font-family="'Liberation Sans', sans-serif" font-size="20" font-weight="normal" textLength="300.00" lengthAdjust="spacing" stroke="#000" stroke-width="0.8">Krebs + <tspan font-style="italic">L</tspan>-NAME 100 µmol/L</text>
<text x="2.40" y="434.20" font-family="'Liberation Sans', sans-serif" font-size="13.5" font-weight="bold" textLength="36.70" lengthAdjust="spacing" >0.3 g</text>
<text x="42.50" y="466.40" font-family="'Liberation Sans', sans-serif" font-size="13.5" font-weight="bold" textLength="40.00" lengthAdjust="spacing" >2 min</text>
<text x="262.90" y="598.80" font-family="'Liberation Sans', sans-serif" font-size="19.5" font-weight="normal" textLength="22.90" lengthAdjust="spacing" stroke="#000" stroke-width="0.5">30</text>
<text x="437.10" y="598.80" font-family="'Liberation Sans', sans-serif" font-size="19.5" font-weight="normal" textLength="23.50" lengthAdjust="spacing" stroke="#000" stroke-width="0.5">60</text>
<text x="593.90" y="598.80" font-family="'Liberation Sans', sans-serif" font-size="19.5" font-weight="normal" textLength="23.80" lengthAdjust="spacing" stroke="#000" stroke-width="0.5">90</text>
<text x="734.80" y="598.80" font-family="'Liberation Sans', sans-serif" font-size="19.5" font-weight="normal" textLength="35.60" lengthAdjust="spacing" stroke="#000" stroke-width="0.5">120</text>
<text x="832.80" y="598.80" font-family="'Liberation Sans', sans-serif" font-size="19.5" font-weight="normal" textLength="35.30" lengthAdjust="spacing" stroke="#000" stroke-width="0.5">180</text>
<text x="925.90" y="598.80" font-family="'Liberation Sans', sans-serif" font-size="19.5" font-weight="normal" textLength="95.10" lengthAdjust="spacing" stroke="#000" stroke-width="0.5">240 (min)</text>
<text x="96.50" y="962.60" font-family="'Liberation Sans', sans-serif" font-size="19.5" font-weight="normal" textLength="8.80" lengthAdjust="spacing" stroke="#000" stroke-width="0.5">0</text>
<text x="84.00" y="914.70" font-family="'Liberation Sans', sans-serif" font-size="19.5" font-weight="normal" textLength="22.30" lengthAdjust="spacing" stroke="#000" stroke-width="0.5">20</text>
<text x="84.50" y="866.50" font-family="'Liberation Sans', sans-serif" font-size="19.5" font-weight="normal" textLength="22.00" lengthAdjust="spacing" stroke="#000" stroke-width="0.5">40</text>
<text x="83.50" y="818.20" font-family="'Liberation Sans', sans-serif" font-size="19.5" font-weight="normal" textLength="23.00" lengthAdjust="spacing" stroke="#000" stroke-width="0.5">60</text>
<text x="83.50" y="770.00" font-family="'Liberation Sans', sans-serif" font-size="19.5" font-weight="normal" textLength="23.00" lengthAdjust="spacing" stroke="#000" stroke-width="0.5">80</text>
<text x="70.60" y="721.60" font-family="'Liberation Sans', sans-serif" font-size="19.5" font-weight="normal" textLength="35.70" lengthAdjust="spacing" stroke="#000" stroke-width="0.5">100</text>
<text x="70.60" y="673.10" font-family="'Liberation Sans', sans-serif" font-size="19.5" font-weight="normal" textLength="35.70" lengthAdjust="spacing" stroke="#000" stroke-width="0.5">120</text>
<text x="150.10" y="982.30" font-family="'Liberation Sans', sans-serif" font-size="19.5" font-weight="normal" textLength="7.40" lengthAdjust="spacing" stroke="#000" stroke-width="0.5">0</text>
<text x="208.70" y="982.30" font-family="'Liberation Sans', sans-serif" font-size="19.5" font-weight="normal" textLength="22.90" lengthAdjust="spacing" stroke="#000" stroke-width="0.5">30</text>
<text x="271.20" y="982.30" font-family="'Liberation Sans', sans-serif" font-size="19.5" font-weight="normal" textLength="23.20" lengthAdjust="spacing" stroke="#000" stroke-width="0.5">60</text>
<text x="334.10" y="982.30" font-family="'Liberation Sans', sans-serif" font-size="19.5" font-weight="normal" textLength="22.50" lengthAdjust="spacing" stroke="#000" stroke-width="0.5">90</text>
<text x="392.30" y="982.30" font-family="'Liberation Sans', sans-serif" font-size="19.5" font-weight="normal" textLength="35.20" lengthAdjust="spacing" stroke="#000" stroke-width="0.5">120</text>
<text x="454.20" y="982.30" font-family="'Liberation Sans', sans-serif" font-size="19.5" font-weight="normal" textLength="35.20" lengthAdjust="spacing" stroke="#000" stroke-width="0.5">150</text>
<text x="519.40" y="982.30" font-family="'Liberation Sans', sans-serif" font-size="19.5" font-weight="normal" textLength="34.50" lengthAdjust="spacing" stroke="#000" stroke-width="0.5">180</text>
<text x="581.00" y="982.30" font-family="'Liberation Sans', sans-serif" font-size="19.5" font-weight="normal" textLength="35.30" lengthAdjust="spacing" stroke="#000" stroke-width="0.5">210</text>
<text x="641.70" y="982.30" font-family="'Liberation Sans', sans-serif" font-size="19.5" font-weight="normal" textLength="35.20" lengthAdjust="spacing" stroke="#000" stroke-width="0.5">240</text>
<text x="324.10" y="1014.40" font-family="'Liberation Sans', sans-serif" font-size="19.5" font-weight="normal" textLength="107.70" lengthAdjust="spacing" stroke="#000" stroke-width="0.5">Time (min)</text>
<text x="752.60" y="788.50" font-family="'Liberation Sans', sans-serif" font-size="20.5" font-weight="normal" textLength="183.90" lengthAdjust="spacing" stroke="#000" stroke-width="0.6">Control SP 1 µmol/L</text>
<text x="753.10" y="820.20" font-family="'Liberation Sans', sans-serif" font-size="20.5" font-weight="normal" textLength="246.90" lengthAdjust="spacing" stroke="#000" stroke-width="0.6">BTX-A 4 U/mL+SP 1 µmol/L</text>
<text x="753.10" y="849.80" font-family="'Liberation Sans', sans-serif" font-size="20.5" font-weight="normal" textLength="241.40" lengthAdjust="spacing" stroke="#000" stroke-width="0.6">BTX-A 10 U/mL+SP 1 µmol/L</text>
<text transform="translate(41.80,949.00) rotate(-90)" x="0" y="0" font-family="'Liberation Sans', sans-serif" font-size="19.5" font-weight="normal" textLength="280.70" lengthAdjust="spacing" stroke="#000" stroke-width="0.45">Contractile Response to SP</text>
<text transform="translate(62.50,885.30) rotate(-90)" x="0" y="0" font-family="'Liberation Sans', sans-serif" font-size="19.5" font-weight="normal" textLength="149.40" lengthAdjust="spacing" stroke="#000" stroke-width="0.45">(% of Control)</text>
<rect x="122.3" y="663.7" width="4.4" height="298.8" fill="#000"/>
<rect x="116" y="953.8" width="547.8" height="4.2" fill="#000"/>
<rect x="124" y="953.6" width="6.8" height="4.6" fill="#000"/>
<rect x="124" y="905.4" width="6.8" height="4.6" fill="#000"/>
<rect x="124" y="857.1" width="6.8" height="4.6" fill="#000"/>
<rect x="124" y="808.9" width="6.8" height="4.6" fill="#000"/>
<rect x="124" y="760.6" width="6.8" height="4.6" fill="#000"/>
<rect x="124" y="712.4" width="6.8" height="4.6" fill="#000"/>
<rect x="124" y="664.1" width="6.8" height="4.6" fill="#000"/>
<rect x="153.4" y="949.7" width="4" height="6" fill="#000"/>
<rect x="217.9" y="949.7" width="4" height="6" fill="#000"/>
<rect x="280.8" y="949.7" width="4" height="6" fill="#000"/>
<rect x="344.4" y="949.7" width="4" height="6" fill="#000"/>
<rect x="407.8" y="949.7" width="4" height="6" fill="#000"/>
<rect x="471.0" y="949.7" width="4" height="6" fill="#000"/>
<rect x="534.0" y="949.7" width="4" height="6" fill="#000"/>
<rect x="597.7" y="949.7" width="4" height="6" fill="#000"/>
<rect x="659.8" y="949.7" width="4" height="6" fill="#000"/>
<path d="M155.6,713.5 C166.3,711.9 198.8,705.7 219.9,703.7 C241.0,701.8 261.2,700.8 282.2,701.8 C303.2,702.8 324.8,707.1 346.0,709.8 C367.2,712.5 388.6,716.1 409.7,718.2 C430.8,720.3 451.6,720.9 472.6,722.3 C493.6,723.7 514.5,724.5 535.7,726.4 C556.9,728.3 578.6,732.0 599.6,733.8 C620.6,735.6 651.4,736.6 661.8,737.2" fill="none" stroke="#000" stroke-width="2.6"/>
<path d="M155.6,713.5 C166.3,713.8 198.8,715.1 219.9,715.3 C241.0,715.5 261.2,713.6 282.2,714.8 C303.2,716.0 324.8,717.8 346.0,722.4 C367.2,727.0 388.6,736.9 409.7,742.6 C430.8,748.3 451.6,752.9 472.6,756.8 C493.6,760.7 514.5,763.6 535.7,765.8 C556.9,768.0 578.6,768.0 599.6,770.2 C620.6,772.4 651.4,777.5 661.8,779.0" fill="none" stroke="#000" stroke-width="2.6"/>
<path d="M155.6,713.5 C166.3,716.7 198.8,725.8 219.9,732.6 C241.0,739.4 261.2,743.4 282.2,754.5 C303.2,765.6 324.8,784.8 346.0,799.2 C367.2,813.6 388.6,831.0 409.7,840.8 C430.8,850.6 451.6,853.9 472.6,858.0 C493.6,862.1 514.5,861.1 535.7,865.2 C556.9,869.3 578.6,877.5 599.6,882.4 C620.6,887.3 651.4,892.8 661.8,894.9" fill="none" stroke="#000" stroke-width="2.6"/>
<rect x="151.3" y="709.2" width="8.6" height="8.6" fill="#000"/>
<path d="M219.9,700.2 L219.9,707.2 M213.7,700.2 L226.1,700.2 M213.7,707.2 L226.1,707.2" stroke="#000" stroke-width="2.4" fill="none"/>
<path d="M219.9,711.5 L219.9,719.1 M213.7,711.5 L226.1,711.5 M213.7,719.1 L226.1,719.1" stroke="#000" stroke-width="2.4" fill="none"/>
<path d="M219.9,726.1 L219.9,739.1 M213.7,726.1 L226.1,726.1 M213.7,739.1 L226.1,739.1" stroke="#000" stroke-width="2.4" fill="none"/>
<circle cx="219.9" cy="703.7" r="2.8" fill="#fff" stroke="#000" stroke-width="1.3"/>
<rect x="216.95" y="712.35" width="5.9" height="5.9" fill="#999" stroke="#000" stroke-width="1.1"/>
<rect x="216.2" y="728.9" width="7.4" height="7.4" fill="#000"/>
<path d="M282.2,697.8 L282.2,705.8 M276.0,697.8 L288.4,697.8 M276.0,705.8 L288.4,705.8" stroke="#000" stroke-width="2.4" fill="none"/>
<path d="M282.2,710.4 L282.2,719.2 M276.0,710.4 L288.4,710.4 M276.0,719.2 L288.4,719.2" stroke="#000" stroke-width="2.4" fill="none"/>
<path d="M282.2,742.5 L282.2,766.5 M276.0,742.5 L288.4,742.5 M276.0,766.5 L288.4,766.5" stroke="#000" stroke-width="2.4" fill="none"/>
<circle cx="282.2" cy="701.8" r="2.8" fill="#fff" stroke="#000" stroke-width="1.3"/>
<rect x="279.25" y="711.85" width="5.9" height="5.9" fill="#999" stroke="#000" stroke-width="1.1"/>
<rect x="278.5" y="750.8" width="7.4" height="7.4" fill="#000"/>
<path d="M346.0,705.3 L346.0,714.3 M339.8,705.3 L352.2,705.3 M339.8,714.3 L352.2,714.3" stroke="#000" stroke-width="2.4" fill="none"/>
<path d="M346.0,718.8 L346.0,726.0 M339.8,718.8 L352.2,718.8 M339.8,726.0 L352.2,726.0" stroke="#000" stroke-width="2.4" fill="none"/>
<path d="M346.0,787.1 L346.0,811.3 M339.8,787.1 L352.2,787.1 M339.8,811.3 L352.2,811.3" stroke="#000" stroke-width="2.4" fill="none"/>
<circle cx="346.0" cy="709.8" r="2.8" fill="#fff" stroke="#000" stroke-width="1.3"/>
<rect x="343.05" y="719.45" width="5.9" height="5.9" fill="#999" stroke="#000" stroke-width="1.1"/>
<rect x="342.3" y="795.5" width="7.4" height="7.4" fill="#000"/>
<path d="M409.7,714.9 L409.7,721.5 M403.5,714.9 L415.9,714.9 M403.5,721.5 L415.9,721.5" stroke="#000" stroke-width="2.4" fill="none"/>
<path d="M409.7,734.0 L409.7,751.2 M403.5,734.0 L415.9,734.0 M403.5,751.2 L415.9,751.2" stroke="#000" stroke-width="2.4" fill="none"/>
<path d="M409.7,830.2 L409.7,851.4 M403.5,830.2 L415.9,830.2 M403.5,851.4 L415.9,851.4" stroke="#000" stroke-width="2.4" fill="none"/>
<circle cx="409.7" cy="718.2" r="2.8" fill="#fff" stroke="#000" stroke-width="1.3"/>
<rect x="406.75" y="739.65" width="5.9" height="5.9" fill="#999" stroke="#000" stroke-width="1.1"/>
<rect x="406.0" y="837.1" width="7.4" height="7.4" fill="#000"/>
<path d="M472.6,720.3 L472.6,724.3 M466.4,720.3 L478.8,720.3 M466.4,724.3 L478.8,724.3" stroke="#000" stroke-width="2.4" fill="none"/>
<path d="M472.6,747.0 L472.6,766.6 M466.4,747.0 L478.8,747.0 M466.4,766.6 L478.8,766.6" stroke="#000" stroke-width="2.4" fill="none"/>
<path d="M472.6,850.7 L472.6,865.3 M466.4,850.7 L478.8,850.7 M466.4,865.3 L478.8,865.3" stroke="#000" stroke-width="2.4" fill="none"/>
<circle cx="472.6" cy="722.3" r="2.8" fill="#fff" stroke="#000" stroke-width="1.3"/>
<rect x="469.65" y="753.85" width="5.9" height="5.9" fill="#999" stroke="#000" stroke-width="1.1"/>
<rect x="468.9" y="854.3" width="7.4" height="7.4" fill="#000"/>
<path d="M535.7,723.9 L535.7,728.9 M529.5,723.9 L541.9,723.9 M529.5,728.9 L541.9,728.9" stroke="#000" stroke-width="2.4" fill="none"/>
<path d="M535.7,755.3 L535.7,776.3 M529.5,755.3 L541.9,755.3 M529.5,776.3 L541.9,776.3" stroke="#000" stroke-width="2.4" fill="none"/>
<path d="M535.7,857.7 L535.7,872.7 M529.5,857.7 L541.9,857.7 M529.5,872.7 L541.9,872.7" stroke="#000" stroke-width="2.4" fill="none"/>
<circle cx="535.7" cy="726.4" r="2.8" fill="#fff" stroke="#000" stroke-width="1.3"/>
<rect x="532.75" y="762.85" width="5.9" height="5.9" fill="#999" stroke="#000" stroke-width="1.1"/>
<rect x="532.0" y="861.5" width="7.4" height="7.4" fill="#000"/>
<path d="M599.6,730.8 L599.6,736.8 M593.4,730.8 L605.8,730.8 M593.4,736.8 L605.8,736.8" stroke="#000" stroke-width="2.4" fill="none"/>
<path d="M599.6,759.4 L599.6,781.0 M593.4,759.4 L605.8,759.4 M593.4,781.0 L605.8,781.0" stroke="#000" stroke-width="2.4" fill="none"/>
<path d="M599.6,875.4 L599.6,889.4 M593.4,875.4 L605.8,875.4 M593.4,889.4 L605.8,889.4" stroke="#000" stroke-width="2.4" fill="none"/>
<circle cx="599.6" cy="733.8" r="2.8" fill="#fff" stroke="#000" stroke-width="1.3"/>
<rect x="596.65" y="767.25" width="5.9" height="5.9" fill="#999" stroke="#000" stroke-width="1.1"/>
<rect x="595.9" y="878.7" width="7.4" height="7.4" fill="#000"/>
<path d="M661.8,734.2 L661.8,740.2 M655.6,734.2 L668.0,734.2 M655.6,740.2 L668.0,740.2" stroke="#000" stroke-width="2.4" fill="none"/>
<path d="M661.8,767.6 L661.8,790.4 M655.6,767.6 L668.0,767.6 M655.6,790.4 L668.0,790.4" stroke="#000" stroke-width="2.4" fill="none"/>
<path d="M661.8,887.0 L661.8,902.8 M655.6,887.0 L668.0,887.0 M655.6,902.8 L668.0,902.8" stroke="#000" stroke-width="2.4" fill="none"/>
<circle cx="661.8" cy="737.2" r="2.8" fill="#fff" stroke="#000" stroke-width="1.3"/>
<rect x="658.85" y="776.05" width="5.9" height="5.9" fill="#999" stroke="#000" stroke-width="1.1"/>
<rect x="658.1" y="891.2" width="7.4" height="7.4" fill="#000"/>
<text x="216.7" y="761.8" font-family="'Liberation Sans', sans-serif" font-size="22" font-weight="bold" letter-spacing="3.75" stroke="#000" stroke-width="0.5">*</text>
<text x="214.0" y="772.0" font-family="'Liberation Sans', sans-serif" font-size="17" font-weight="bold" letter-spacing="2.6" stroke="#000" stroke-width="0.8">#</text>
<text x="273.4" y="790.2" font-family="'Liberation Sans', sans-serif" font-size="22" font-weight="bold" letter-spacing="3.75" stroke="#000" stroke-width="0.5">**</text>
<text x="271.0" y="799.9" font-family="'Liberation Sans', sans-serif" font-size="17" font-weight="bold" letter-spacing="2.6" stroke="#000" stroke-width="0.8">##</text>
<text x="330.9" y="832.2" font-family="'Liberation Sans', sans-serif" font-size="22" font-weight="bold" letter-spacing="3.75" stroke="#000" stroke-width="0.5">***</text>
<text x="334.3" y="840.2" font-family="'Liberation Sans', sans-serif" font-size="17" font-weight="bold" letter-spacing="2.6" stroke="#000" stroke-width="0.8">##</text>
<text x="393.0" y="874.5" font-family="'Liberation Sans', sans-serif" font-size="22" font-weight="bold" letter-spacing="3.75" stroke="#000" stroke-width="0.5">***</text>
<text x="396.8" y="883.3" font-family="'Liberation Sans', sans-serif" font-size="17" font-weight="bold" letter-spacing="2.6" stroke="#000" stroke-width="0.8">##</text>
<text x="457.2" y="886.3" font-family="'Liberation Sans', sans-serif" font-size="22" font-weight="bold" letter-spacing="3.75" stroke="#000" stroke-width="0.5">***</text>
<text x="460.3" y="894.6" font-family="'Liberation Sans', sans-serif" font-size="17" font-weight="bold" letter-spacing="2.6" stroke="#000" stroke-width="0.8">##</text>
<text x="519.9" y="893.8" font-family="'Liberation Sans', sans-serif" font-size="22" font-weight="bold" letter-spacing="3.75" stroke="#000" stroke-width="0.5">***</text>
<text x="524.5" y="901.7" font-family="'Liberation Sans', sans-serif" font-size="17" font-weight="bold" letter-spacing="2.6" stroke="#000" stroke-width="0.8">##</text>
<text x="583.8" y="912.2" font-family="'Liberation Sans', sans-serif" font-size="22" font-weight="bold" letter-spacing="3.75" stroke="#000" stroke-width="0.5">***</text>
<text x="588.2" y="919.8" font-family="'Liberation Sans', sans-serif" font-size="17" font-weight="bold" letter-spacing="2.6" stroke="#000" stroke-width="0.8">##</text>
<text x="646.4" y="924.5" font-family="'Liberation Sans', sans-serif" font-size="22" font-weight="bold" letter-spacing="3.75" stroke="#000" stroke-width="0.5">***</text>
<text x="650.3" y="932.6" font-family="'Liberation Sans', sans-serif" font-size="17" font-weight="bold" letter-spacing="2.6" stroke="#000" stroke-width="0.8">##</text>
<text x="464.2" y="789.4" font-family="'Liberation Sans', sans-serif" font-size="22" font-weight="bold" letter-spacing="3.75" stroke="#000" stroke-width="0.5">**</text>
<text x="526.0" y="800.2" font-family="'Liberation Sans', sans-serif" font-size="22" font-weight="bold" letter-spacing="3.75" stroke="#000" stroke-width="0.5">**</text>
<text x="590.8" y="805.2" font-family="'Liberation Sans', sans-serif" font-size="22" font-weight="bold" letter-spacing="3.75" stroke="#000" stroke-width="0.5">**</text>
<text x="652.0" y="812.1" font-family="'Liberation Sans', sans-serif" font-size="22" font-weight="bold" letter-spacing="3.75" stroke="#000" stroke-width="0.5">**</text>
<rect x="692" y="780.75" width="42" height="2.3" fill="#000"/>
<circle cx="711.5" cy="781.9" r="3.1" fill="#fff" stroke="#000" stroke-width="1.3"/>
<rect x="692" y="811.75" width="42" height="2.3" fill="#000"/>
<rect x="708.05" y="809.45" width="6.9" height="6.9" fill="#999" stroke="#000" stroke-width="1.2"/>
<rect x="692" y="842.05" width="42" height="2.3" fill="#000"/>
<rect x="707.40" y="839.10" width="8.2" height="8.2" fill="#000"/>
</svg>
</body></html>
